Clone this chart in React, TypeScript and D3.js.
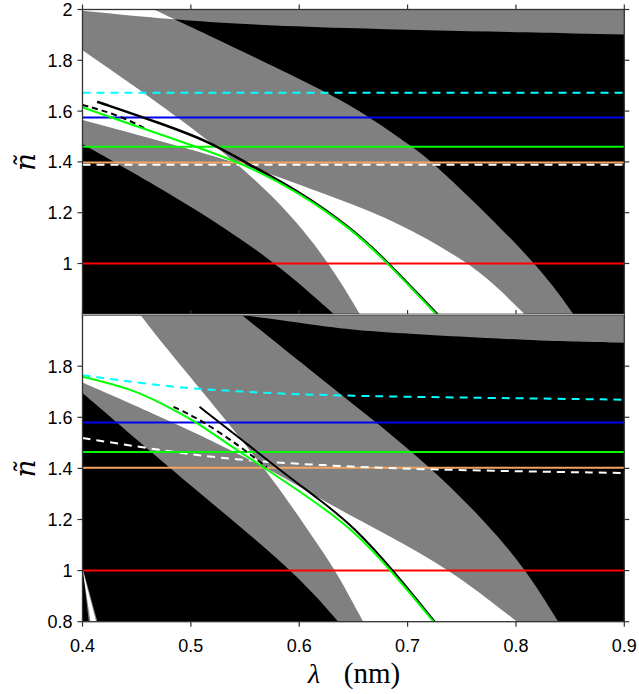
import React from "react";
import * as d3 from "d3";

type P = [number, number];

// ---------- axes ----------
const X_TICKS = [0.4, 0.5, 0.6, 0.7, 0.8, 0.9];
const Y_TICKS_TOP = [1.0, 1.2, 1.4, 1.6, 1.8, 2.0];
const Y_TICKS_BOTTOM = [0.8, 1.0, 1.2, 1.4, 1.6, 1.8];
const X_DOMAIN: P = [0.4, 0.9];
const Y_DOMAIN: P = [0.8, 2.0];

// ---------- top panel region boundaries (λ, ñ) ----------
const TOP_LOWER_EDGE: P[] = [[0.4, 1.47], [0.5, 1.23], [0.58, 1.0], [0.632, 0.8]];
const TOP_UPPER_EDGE: P[] = [[0.4657, 2.0], [0.4876, 1.956], [0.619, 1.691], [0.665, 1.578], [0.704, 1.46], [0.724, 1.398], [0.8206, 0.998], [0.853, 0.8]];
const TOP_STEEP_EDGE: P[] = [[0.4, 1.84], [0.55, 1.393], [0.619, 1.065], [0.656, 0.8]];
const TOP_SHALLOW_EDGE: P[] = [[0.4, 1.565], [0.55, 1.393], [0.619, 1.279], [0.681, 1.184], [0.742, 1.04], [0.773, 0.948], [0.808, 0.8]];
const TOP_STRIP_EDGE: P[] = [[0.4, 1.9953], [0.4876, 1.956], [0.619, 1.926], [0.9, 1.902]];

// ---------- bottom panel region boundaries ----------
const BOT_LOWER_EDGE: P[] = [[0.4, 1.695], [0.5, 1.33], [0.595, 1.0], [0.636, 0.8]];
const BOT_UPPER_EDGE: P[] = [[0.547, 2.0], [0.619, 1.756], [0.656, 1.631], [0.721, 1.407], [0.773, 1.187], [0.81, 1.0], [0.839, 0.8]];
const BOT_STEEP_EDGE: P[] = [[0.4535, 2.0], [0.478, 1.865], [0.568, 1.41], [0.619, 1.09], [0.635, 0.99], [0.659, 0.8]];
const BOT_SHALLOW_EDGE: P[] = [[0.4, 1.736], [0.472, 1.604], [0.568, 1.41], [0.619, 1.28], [0.681, 1.14], [0.741, 1.0], [0.801, 0.8]];
const BOT_STRIP_EDGE: P[] = [[0.547, 2.0], [0.619, 1.959], [0.656, 1.936], [0.822, 1.898], [0.9, 1.892]];
const BOT_SLIVER_GRAY_L: P[] = [[0.4, 1.018], [0.4058, 0.8]];
const BOT_SLIVER_GRAY_R: P[] = [[0.4, 1.012], [0.4138, 0.8]];
const BOT_SLIVER_WHITE_L: P[] = [[0.4003, 1.0], [0.4074, 0.8]];
const BOT_SLIVER_WHITE_R: P[] = [[0.4003, 1.0], [0.4126, 0.8]];

// ---------- top panel lines ----------
const TOP_RED = 1.0;
const TOP_ORANGE = 1.398;
const TOP_WHITE_DASH = 1.389;
const TOP_GREEN_H = 1.46;
const TOP_BLUE = 1.575;
const TOP_CYAN_DASH = 1.672;
const TOP_GREEN_CURVE: P[] = [[0.4, 1.615], [0.45, 1.54], [0.5, 1.467], [0.55, 1.39], [0.6, 1.28], [0.65, 1.13], [0.682, 1.0], [0.7115, 0.868], [0.7265, 0.8]];
const TOP_BLACK_CURVE: P[] = [[0.4135, 1.637], [0.472, 1.552], [0.518, 1.478], [0.55, 1.398], [0.6, 1.284], [0.65, 1.133], [0.682, 1.003], [0.7115, 0.871], [0.7275, 0.8]];
const TOP_BLACK_DASH: P[] = [[0.4, 1.624], [0.432, 1.587], [0.46, 1.527]];

// ---------- bottom panel lines ----------
const BOT_RED = 1.0;
const BOT_ORANGE = 1.403;
const BOT_GREEN_H = 1.464;
const BOT_BLUE = 1.58;
const BOT_CYAN_DASH: P[] = [[0.4, 1.765], [0.478, 1.719], [0.539, 1.702], [0.619, 1.685], [0.773, 1.676], [0.9, 1.669]];
const BOT_WHITE_DASH: P[] = [[0.4, 1.519], [0.478, 1.467], [0.539, 1.434], [0.619, 1.412], [0.7115, 1.395], [0.9, 1.382]];
const BOT_GREEN_CURVE: P[] = [[0.4, 1.759], [0.447, 1.709], [0.472, 1.656], [0.5026, 1.589], [0.533, 1.498], [0.564, 1.413], [0.61, 1.283], [0.65, 1.16], [0.687, 0.99], [0.724, 0.8]];
const BOT_BLACK_CURVE: P[] = [[0.508, 1.641], [0.539, 1.539], [0.5855, 1.382], [0.619, 1.277], [0.65, 1.173], [0.687, 1.0], [0.725, 0.8]];
const BOT_BLACK_DASH: P[] = [[0.484, 1.641], [0.509, 1.591], [0.5456, 1.486], [0.57, 1.405]];

const LEFT = 82.5, RIGHT = 624.3;
const TOP_Y0 = 9.5, TOP_Y1 = 314.3;
const BOT_Y0 = 315.1, BOT_Y1 = 621.7;

const GRAY = "#808080";
const FONT = "'Liberation Sans', Arial, sans-serif";

function Panel({ which }: { which: "top" | "bottom" }) {
  const isTop = which === "top";
  const x = d3.scaleLinear().domain(X_DOMAIN).range([LEFT, RIGHT]);
  const y = d3.scaleLinear().domain(Y_DOMAIN).range(isTop ? [TOP_Y1, TOP_Y0] : [BOT_Y1, BOT_Y0]);
  const smooth = d3.line<P>().x(d => x(d[0])).y(d => y(d[1])).curve(d3.curveBasis);
  const straight = d3.line<P>().x(d => x(d[0])).y(d => y(d[1]));
  const pt = (p: P) => `L${x(p[0])},${y(p[1])}`;
  const band = (e1: P[], e2: P[], corners: P[] = []) =>
    (smooth(e1) as string) + (smooth([...e2].reverse()) as string).replace(/^M/, "L") + corners.map(pt).join("") + "Z";
  const id = which;
  const y0 = isTop ? TOP_Y0 : BOT_Y0, y1 = isTop ? TOP_Y1 : BOT_Y1;
  const hline = (v: number) => straight([[X_DOMAIN[0], v], [X_DOMAIN[1], v]]) as string;
  const yTicks = isTop ? Y_TICKS_TOP : Y_TICKS_BOTTOM;
  const fmt = d3.format("~g");

  let regions: React.ReactNode;
  let lines: React.ReactNode;
  if (isTop) {
    const grayMain = band(TOP_LOWER_EDGE, TOP_UPPER_EDGE, [[0.4, 2.0]]);
    const grayStrip = (smooth(TOP_STRIP_EDGE) as string) + pt([0.9, 2.05]) + pt([0.4, 2.05]) + "Z";
    const white = band(TOP_STEEP_EDGE, TOP_SHALLOW_EDGE);
    const belowUpper = (smooth(TOP_UPPER_EDGE) as string) + pt([0.853, 0.5]) + pt([0.3, 0.5]) + pt([0.3, 2.05]) + pt([0.4657, 2.05]) + "Z";
    regions = (
      <>
        <clipPath id={`below-${id}`}><path d={belowUpper} /></clipPath>
        <path d={grayMain} fill={GRAY} />
        <path d={grayStrip} fill={GRAY} />
        <path d={white} fill="#fff" />
        <path d={grayStrip} fill="#fff" clipPath={`url(#below-${id})`} />
      </>
    );
    lines = (
      <>
        <path d={hline(TOP_RED)} stroke="#ff0000" strokeWidth={2} fill="none" />
        <path d={hline(TOP_ORANGE)} stroke="#f4a460" strokeWidth={2} fill="none" />
        <path d={hline(TOP_WHITE_DASH)} stroke="#fff" strokeWidth={2} strokeDasharray="8,6" fill="none" />
        <path d={hline(TOP_GREEN_H)} stroke="#00ff00" strokeWidth={2} fill="none" />
        <path d={hline(TOP_BLUE)} stroke="#0000ee" strokeWidth={2} fill="none" />
        <path d={hline(TOP_CYAN_DASH)} stroke="#00ffff" strokeWidth={2} strokeDasharray="8,6" fill="none" />
        <path d={smooth(TOP_BLACK_DASH) as string} stroke="#000" strokeWidth={2} strokeDasharray="6,4" fill="none" />
        <path d={smooth(TOP_BLACK_CURVE) as string} stroke="#000" strokeWidth={2.6} fill="none" />
        <path d={smooth(TOP_GREEN_CURVE) as string} stroke="#00ff00" strokeWidth={2} fill="none" />
      </>
    );
  } else {
    const grayMain = band(BOT_LOWER_EDGE, BOT_UPPER_EDGE, [[0.4, 2.0]]);
    const grayStrip = (smooth(BOT_STRIP_EDGE) as string) + pt([0.9, 2.05]) + pt([0.547, 2.05]) + "Z";
    const white = band(BOT_STEEP_EDGE, BOT_SHALLOW_EDGE, [[0.4, 2.0]]);
    const sliverGray = band(BOT_SLIVER_GRAY_L, BOT_SLIVER_GRAY_R);
    const sliverWhite = band(BOT_SLIVER_WHITE_L, BOT_SLIVER_WHITE_R);
    regions = (
      <>
        <path d={grayMain} fill={GRAY} />
        <path d={grayStrip} fill={GRAY} />
        <path d={white} fill="#fff" />
        <path d={sliverGray} fill={GRAY} />
        <path d={sliverWhite} fill="#fff" />
      </>
    );
    lines = (
      <>
        <path d={hline(BOT_RED)} stroke="#ff0000" strokeWidth={2} fill="none" />
        <path d={hline(BOT_ORANGE)} stroke="#f4a460" strokeWidth={2} fill="none" />
        <path d={smooth(BOT_WHITE_DASH) as string} stroke="#fff" strokeWidth={2} strokeDasharray="8,6" fill="none" />
        <path d={hline(BOT_GREEN_H)} stroke="#00ff00" strokeWidth={2} fill="none" />
        <path d={hline(BOT_BLUE)} stroke="#0000ee" strokeWidth={2} fill="none" />
        <path d={smooth(BOT_CYAN_DASH) as string} stroke="#00ffff" strokeWidth={2} strokeDasharray="8,6" fill="none" />
        <path d={smooth(BOT_BLACK_DASH) as string} stroke="#000" strokeWidth={2} strokeDasharray="6,4" fill="none" />
        <path d={smooth(BOT_BLACK_CURVE) as string} stroke="#000" strokeWidth={2} fill="none" />
        <path d={smooth(BOT_GREEN_CURVE) as string} stroke="#00ff00" strokeWidth={2} fill="none" />
      </>
    );
  }

  return (
    <g>
      <clipPath id={`plot-${id}`}>
        <rect x={LEFT} y={y0} width={RIGHT - LEFT} height={y1 - y0} />
      </clipPath>
      <g clipPath={`url(#plot-${id})`}>
        <rect x={LEFT} y={y0} width={RIGHT - LEFT} height={y1 - y0} fill="#000" />
        {regions}
        {lines}
      </g>
      <rect x={LEFT} y={y0} width={RIGHT - LEFT} height={y1 - y0} fill="none" stroke="#333" strokeWidth={1.3} />
      {X_TICKS.map(t => (
        <g key={`xt${t}`} stroke="#333" strokeWidth={1.2}>
          <line x1={x(t)} x2={x(t)} y1={y0} y2={y0 - 5} />
          <line x1={x(t)} x2={x(t)} y1={y1} y2={y1 + 5} />
        </g>
      ))}
      {yTicks.map(t => (
        <g key={`yt${t}`}>
          <line x1={LEFT} x2={LEFT - 5} y1={y(t)} y2={y(t)} stroke="#333" strokeWidth={1.2} />
          <line x1={RIGHT} x2={RIGHT + 5} y1={y(t)} y2={y(t)} stroke="#333" strokeWidth={1.2} />
          <text x={LEFT - 10} y={y(t)} dy="0.36em" textAnchor="end" fontFamily={FONT} fontSize={18} fill="#000">{fmt(t)}</text>
        </g>
      ))}
      {!isTop && X_TICKS.map(t => (
        <text key={`xl${t}`} x={x(t)} y={y1 + 30} textAnchor="middle" fontFamily={FONT} fontSize={18} fill="#000">{fmt(t)}</text>
      ))}
      <text transform={`translate(35,${(y0 + y1) / 2}) rotate(-90)`} textAnchor="middle" fontFamily="'DejaVu Serif', serif" fontStyle="italic" fontSize={28} fill="#000">ñ</text>
    </g>
  );
}

export default function App() {
  return (
    <svg width={639} height={694} style={{ position: "absolute", left: 0, top: 0, background: "#fff" }}>
      <Panel which="top" />
      <Panel which="bottom" />
      <line x1={LEFT} x2={RIGHT} y1={314.7} y2={314.7} stroke="#aaa" strokeWidth={1.2} />
      <text x={314} y={683} textAnchor="middle" fontFamily="'Liberation Serif', serif" fontStyle="italic" fontSize={28} fill="#000">λ</text>
      <text x={372} y={683} textAnchor="middle" fontFamily="'Liberation Serif', serif" fontSize={29} fill="#000">(nm)</text>
    </svg>
  );
}
